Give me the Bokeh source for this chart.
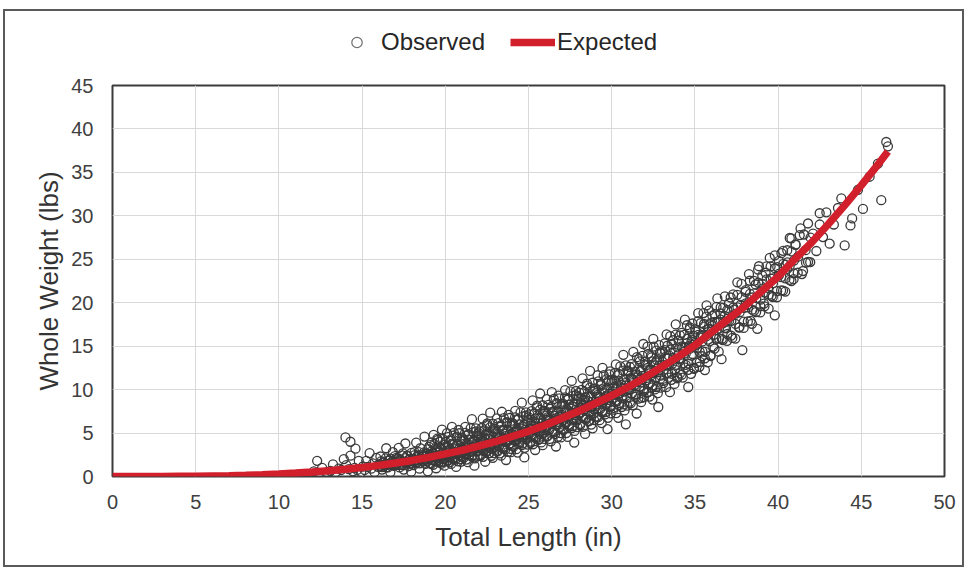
from bokeh.plotting import figure
from bokeh.layouts import column
from bokeh.models import Range1d, Legend, LegendItem, FixedTicker
from bokeh.embed import file_html
from bokeh.resources import INLINE

# Observed fish: total length (in) and whole weight (lbs), one row per inch class
obs_length = [
    12.1, 12.3, 12.4, 12.6, 12.9,
    13.1, 13.25, 13.4, 13.6, 13.75, 13.9,
    14.0, 14.05, 14.2, 14.3, 14.3, 14.45, 14.55, 14.6, 14.7, 14.8, 14.95,
    15.05, 15.15, 15.25, 15.35, 15.45, 15.55, 15.65, 15.75, 15.85, 15.95,
    16.05, 16.1, 16.2, 16.3, 16.35, 16.45, 16.55, 16.6, 16.7, 16.8, 16.85, 16.95,
    17.05, 17.1, 17.2, 17.25, 17.3, 17.4, 17.45, 17.5, 17.6, 17.65, 17.7, 17.8, 17.85, 17.95,
    18.05, 18.1, 18.15, 18.2, 18.25, 18.3, 18.4, 18.45, 18.5, 18.55, 18.65, 18.7, 18.75, 18.8, 18.9, 18.95,
    19.05, 19.1, 19.15, 19.2, 19.25, 19.3, 19.35, 19.4, 19.45, 19.5, 19.55, 19.6, 19.7, 19.75, 19.8, 19.85, 19.9, 19.95,
    20.0, 20.05, 20.1, 20.15, 20.2, 20.25, 20.3, 20.35, 20.4, 20.45, 20.5, 20.55, 20.6, 20.65, 20.7, 20.75, 20.8, 20.85, 20.9, 20.95,
    21.0, 21.05, 21.1, 21.15, 21.2, 21.25, 21.3, 21.35, 21.4, 21.45, 21.5, 21.55, 21.6, 21.65, 21.7, 21.75, 21.8, 21.85, 21.9, 21.95,
    22.0, 22.05, 22.1, 22.15, 22.2, 22.25, 22.3, 22.35, 22.4, 22.45, 22.5, 22.55, 22.6, 22.65, 22.7, 22.75, 22.8, 22.85, 22.9, 22.95,
    23.0, 23.05, 23.1, 23.15, 23.2, 23.25, 23.3, 23.35, 23.4, 23.45, 23.5, 23.55, 23.6, 23.65, 23.7, 23.75, 23.8, 23.85, 23.9, 23.95,
    24.0, 24.05, 24.1, 24.15, 24.2, 24.25, 24.3, 24.35, 24.4, 24.45, 24.5, 24.55, 24.6, 24.65, 24.7, 24.75, 24.8, 24.85, 24.9, 24.95,
    25.0, 25.05, 25.1, 25.15, 25.2, 25.25, 25.3, 25.35, 25.4, 25.45, 25.5, 25.55, 25.6, 25.65, 25.7, 25.75, 25.8, 25.85, 25.9, 25.95,
    26.0, 26.05, 26.1, 26.15, 26.2, 26.25, 26.3, 26.35, 26.4, 26.45, 26.5, 26.55, 26.6, 26.65, 26.7, 26.75, 26.8, 26.85, 26.9, 26.95,
    27.0, 27.05, 27.1, 27.15, 27.2, 27.25, 27.3, 27.35, 27.4, 27.45, 27.5, 27.55, 27.6, 27.65, 27.7, 27.75, 27.8, 27.85, 27.9, 27.95,
    28.0, 28.05, 28.1, 28.15, 28.2, 28.25, 28.3, 28.35, 28.4, 28.45, 28.5, 28.55, 28.6, 28.65, 28.7, 28.75, 28.8, 28.85, 28.9, 28.95,
    29.05, 29.1, 29.15, 29.2, 29.25, 29.3, 29.35, 29.4, 29.45, 29.5, 29.55, 29.6, 29.7, 29.75, 29.8, 29.85, 29.9, 29.95,
    30.05, 30.1, 30.15, 30.2, 30.25, 30.3, 30.35, 30.4, 30.45, 30.5, 30.55, 30.6, 30.7, 30.75, 30.8, 30.85, 30.9, 30.95,
    31.05, 31.1, 31.15, 31.2, 31.25, 31.3, 31.4, 31.45, 31.5, 31.55, 31.65, 31.7, 31.75, 31.8, 31.9, 31.95,
    32.05, 32.1, 32.15, 32.2, 32.25, 32.3, 32.4, 32.45, 32.5, 32.55, 32.65, 32.7, 32.75, 32.8, 32.9, 32.95,
    33.05, 33.1, 33.2, 33.25, 33.3, 33.4, 33.45, 33.5, 33.6, 33.65, 33.7, 33.8, 33.85, 33.95,
    34.05, 34.1, 34.2, 34.25, 34.3, 34.4, 34.45, 34.5, 34.6, 34.65, 34.7, 34.8, 34.85, 34.95,
    35.05, 35.1, 35.2, 35.3, 35.35, 35.45, 35.55, 35.6, 35.7, 35.8, 35.85, 35.95,
    36.05, 36.1, 36.2, 36.3, 36.35, 36.45, 36.55, 36.6, 36.7, 36.8, 36.85, 36.95,
    37.05, 37.15, 37.25, 37.35, 37.45, 37.55, 37.65, 37.75, 37.85, 37.95,
    38.05, 38.15, 38.25, 38.35, 38.45, 38.55, 38.65, 38.75, 38.85, 38.95,
    39.05, 39.15, 39.25, 39.4, 39.5, 39.6, 39.7, 39.8, 39.95,
    40.05, 40.2, 40.3, 40.45, 40.55, 40.7, 40.8, 40.95,
    41.05, 41.2, 41.35, 41.5, 41.65, 41.8, 41.95,
    42.1, 42.3, 42.5, 42.5, 42.7, 42.9,
    43.1, 43.35, 43.6, 43.8, 44.0, 44.35, 44.45, 44.8, 45.1, 45.5, 46.0, 46.2, 46.5, 46.6,
]
obs_weight = [
    0.6, 1.8, 0.4, 1.0, 0.5,
    0.65, 1.4, 0.45, 0.9, 0.75, 2.0,
    4.5, 1.3, 0.85, 2.4, 4.0, 0.6, 1.0, 3.2, 0.75, 1.8, 0.5,
    1.15, 0.75, 1.8, 1.1, 2.7, 0.9, 1.5, 0.5, 2.15, 1.1,
    1.2, 2.3, 0.8, 1.6, 1.4, 3.25, 1.05, 1.85, 0.5, 1.7, 2.8, 1.3,
    2.15, 1.5, 3.3, 1.05, 1.8, 1.35, 2.65, 0.8, 3.8, 1.7, 2.35, 1.2, 1.95, 0.55,
    2.0, 1.3, 2.8, 1.9, 3.9, 1.6, 2.45, 0.9, 3.25, 1.95, 2.3, 1.75, 4.6, 1.45, 2.6, 0.6,
    2.05, 3.6, 1.45, 2.65, 2.35, 4.8, 1.85, 3.0, 0.95, 2.75, 4.2, 2.2, 3.25, 1.65, 5.4, 2.0, 2.45, 1.25,
    3.4, 2.55, 5.0, 1.8, 2.9, 2.25, 4.1, 1.45, 5.7, 2.75, 3.65, 2.1, 3.15, 1.1, 4.5, 2.6, 5.35, 2.4, 3.0, 1.7,
    3.25, 2.25, 4.3, 3.05, 5.7, 2.65, 3.8, 1.65, 4.85, 3.15, 3.6, 2.85, 6.6, 2.45, 4.0, 1.25, 3.45, 5.2, 2.95, 4.5,
    3.3, 5.2, 2.35, 4.05, 3.7, 6.65, 2.95, 4.45, 1.7, 4.2, 5.9, 3.45, 4.75, 2.7, 7.35, 3.2, 3.8, 2.15, 5.55, 3.55,
    4.95, 3.9, 6.7, 2.9, 4.4, 3.55, 5.7, 2.4, 7.45, 4.25, 5.25, 3.3, 4.65, 1.9, 6.15, 4.05, 7.1, 3.75, 4.5, 2.8,
    4.9, 3.55, 6.05, 4.65, 7.55, 4.1, 5.45, 2.75, 6.6, 4.75, 5.3, 4.35, 8.5, 3.8, 5.75, 2.2, 5.1, 7.0, 4.5, 6.25,
    5.0, 7.15, 3.85, 5.85, 5.5, 8.75, 4.55, 6.35, 3.05, 6.05, 7.95, 5.2, 6.65, 4.3, 9.55, 4.85, 5.65, 3.6, 7.55, 5.35,
    7.0, 5.85, 8.9, 4.65, 6.4, 5.4, 7.8, 4.05, 9.7, 6.25, 7.3, 5.1, 6.7, 3.45, 8.3, 6.0, 9.3, 5.65, 6.55, 4.5,
    7.1, 5.5, 8.35, 6.8, 9.95, 6.15, 7.7, 4.55, 8.95, 6.95, 7.5, 6.45, 11.0, 5.8, 8.0, 3.9, 7.3, 9.35, 6.6, 8.55,
    7.25, 9.65, 5.9, 8.3, 7.9, 11.3, 6.75, 8.8, 4.9, 8.45, 10.45, 7.55, 9.15, 6.4, 12.15, 7.1, 8.05, 5.55, 10.05, 7.7,
    9.6, 8.3, 11.65, 6.85, 9.0, 7.75, 10.5, 6.15, 12.5, 8.8, 9.95, 7.4, 9.3, 5.45, 11.0, 8.5, 12.1, 8.05,
    9.8, 7.9, 11.1, 9.4, 12.9, 8.65, 10.45, 6.75, 11.8, 9.6, 10.25, 9.05, 14.0, 8.3, 10.75, 6.0, 10.0, 12.2,
    10.05, 12.6, 8.45, 11.2, 10.75, 14.35, 9.45, 11.75, 7.25, 11.4, 13.5, 10.35, 12.1, 9.05, 15.25, 9.85,
    12.8, 11.35, 14.95, 9.7, 12.15, 10.75, 13.7, 8.85, 15.85, 11.9, 13.15, 10.3, 12.45, 8.0, 14.25, 11.6,
    13.2, 11.0, 14.55, 12.75, 16.35, 11.9, 13.9, 9.7, 15.25, 13.0, 13.65, 12.3, 17.5, 11.45,
    13.55, 16.25, 11.7, 14.8, 14.35, 18.05, 12.85, 15.35, 10.3, 15.0, 17.15, 13.9, 15.7, 12.4,
    16.65, 15.15, 18.8, 13.2, 16.0, 14.4, 17.55, 12.25, 19.7, 15.75, 17.0, 13.95,
    17.35, 14.95, 18.7, 16.85, 20.5, 15.9, 18.05, 13.5, 19.4, 17.1, 17.8, 16.4,
    17.9, 20.6, 15.95, 19.2, 18.75, 22.35, 17.15, 19.75, 14.55, 19.4,
    21.25, 19.75, 23.3, 17.9, 20.6, 19.05, 22.1, 17.0, 24.2, 20.35,
    22.15, 19.9, 23.45, 21.7, 25.15, 20.8, 22.8, 18.55, 24.1,
    23.15, 25.7, 21.4, 24.35, 23.9, 27.45, 22.5, 24.85,
    26.65, 25.3, 28.55, 23.65, 26.05, 24.7, 27.5,
    27.95, 25.95, 29.0, 30.3, 27.55, 30.4,
    26.8, 29.0, 30.9, 32.0, 26.6, 28.9, 29.7, 33.0, 30.8, 34.5, 36.0, 31.8, 38.5, 38.0,
]

# Dense core of the observations, close to the expected curve
core_length = [
    16.03, 16.09, 16.16, 16.22, 16.28, 16.34, 16.41, 16.47, 16.53, 16.59, 16.66, 16.72, 16.78, 16.84, 16.91, 16.97,
    17.03, 17.09, 17.16, 17.22, 17.28, 17.34, 17.41, 17.47, 17.53, 17.59, 17.66, 17.72, 17.78, 17.84, 17.91, 17.97,
    18.03, 18.09, 18.16, 18.22, 18.28, 18.34, 18.41, 18.47, 18.53, 18.59, 18.66, 18.72, 18.78, 18.84, 18.91, 18.97,
    19.03, 19.09, 19.16, 19.22, 19.28, 19.34, 19.41, 19.47, 19.53, 19.59, 19.66, 19.72, 19.78, 19.84, 19.91, 19.97,
    20.03, 20.09, 20.16, 20.22, 20.28, 20.34, 20.41, 20.47, 20.53, 20.59, 20.66, 20.72, 20.78, 20.84, 20.91, 20.97,
    21.03, 21.09, 21.16, 21.22, 21.28, 21.34, 21.41, 21.47, 21.53, 21.59, 21.66, 21.72, 21.78, 21.84, 21.91, 21.97,
    22.03, 22.09, 22.16, 22.22, 22.28, 22.34, 22.41, 22.47, 22.53, 22.59, 22.66, 22.72, 22.78, 22.84, 22.91, 22.97,
    23.03, 23.09, 23.16, 23.22, 23.28, 23.34, 23.41, 23.47, 23.53, 23.59, 23.66, 23.72, 23.78, 23.84, 23.91, 23.97,
    24.03, 24.09, 24.16, 24.22, 24.28, 24.34, 24.41, 24.47, 24.53, 24.59, 24.66, 24.72, 24.78, 24.84, 24.91, 24.97,
    25.03, 25.09, 25.16, 25.22, 25.28, 25.34, 25.41, 25.47, 25.53, 25.59, 25.66, 25.72, 25.78, 25.84, 25.91, 25.97,
    26.03, 26.09, 26.16, 26.22, 26.28, 26.34, 26.41, 26.47, 26.53, 26.59, 26.66, 26.72, 26.78, 26.84, 26.91, 26.97,
    27.03, 27.09, 27.16, 27.22, 27.28, 27.34, 27.41, 27.47, 27.53, 27.59, 27.66, 27.72, 27.78, 27.84, 27.91, 27.97,
    28.03, 28.09, 28.16, 28.22, 28.28, 28.34, 28.41, 28.47, 28.53, 28.59, 28.66, 28.72, 28.78, 28.84, 28.91, 28.97,
    29.03, 29.09, 29.16, 29.22, 29.28, 29.34, 29.41, 29.47, 29.53, 29.59, 29.66, 29.72, 29.78, 29.84, 29.91, 29.97,
    30.03, 30.09, 30.16, 30.22, 30.28, 30.34, 30.41, 30.47, 30.53, 30.59, 30.66, 30.72, 30.78, 30.84, 30.91, 30.97,
    31.03, 31.09, 31.16, 31.22, 31.28, 31.34, 31.41, 31.47, 31.53, 31.59, 31.66, 31.72, 31.78, 31.84, 31.91, 31.97,
    32.03, 32.09, 32.16, 32.22, 32.28, 32.34, 32.41, 32.47, 32.53, 32.59, 32.66, 32.72, 32.78, 32.84, 32.91, 32.97,
    33.04, 33.12, 33.2, 33.29, 33.37, 33.45, 33.54, 33.62, 33.7, 33.79, 33.87, 33.95,
    34.04, 34.12, 34.2, 34.29, 34.37, 34.45, 34.54, 34.62, 34.7, 34.79, 34.87, 34.95,
    35.04, 35.12, 35.2, 35.29, 35.37, 35.45, 35.54, 35.62, 35.7, 35.79, 35.87, 35.95,
    36.04, 36.12, 36.2, 36.29, 36.37, 36.45, 36.54, 36.62, 36.7, 36.79, 36.87, 36.95,
    37.06, 37.19, 37.31, 37.44, 37.56, 37.69, 37.81, 37.94,
    38.06, 38.19, 38.31, 38.44, 38.56, 38.69, 38.81, 38.94,
    39.06, 39.19, 39.31, 39.44, 39.56, 39.69, 39.81, 39.94,
    40.06, 40.19, 40.31, 40.44, 40.56, 40.69, 40.81, 40.94,
]
core_weight = [
    1.41, 1.2, 1.78, 1.09, 1.64, 1.32, 2.08, 1.06, 1.42, 1.79, 1.28, 2.05, 1.41, 1.69, 1.23, 2.35,
    1.69, 1.46, 2.1, 1.32, 1.93, 1.59, 2.42, 1.27, 1.71, 2.11, 1.53, 2.4, 1.68, 2.0, 1.46, 2.72,
    2.0, 1.74, 2.45, 1.58, 2.27, 1.9, 2.8, 1.52, 2.04, 2.47, 1.83, 2.78, 2.01, 2.36, 1.75, 3.14,
    2.36, 2.08, 2.86, 1.89, 2.67, 2.26, 3.26, 1.83, 2.41, 2.89, 2.17, 3.24, 2.38, 2.78, 2.08, 3.64,
    2.78, 2.46, 3.34, 2.24, 3.12, 2.65, 3.78, 2.16, 2.81, 3.35, 2.54, 3.74, 2.77, 3.21, 2.42, 4.18,
    3.2, 2.85, 3.78, 2.61, 3.56, 3.07, 4.26, 2.54, 3.27, 3.83, 2.97, 4.24, 3.23, 3.7, 2.86, 4.72,
    3.7, 3.32, 4.3, 3.03, 4.07, 3.55, 4.79, 2.93, 3.77, 4.34, 3.42, 4.76, 3.71, 4.21, 3.27, 5.25,
    4.2, 3.8, 4.84, 3.5, 4.61, 4.08, 5.36, 3.41, 4.32, 4.91, 3.95, 5.36, 4.27, 4.8, 3.8, 5.88,
    4.81, 4.38, 5.46, 4.06, 5.23, 4.67, 5.99, 3.94, 4.92, 5.52, 4.51, 5.98, 4.85, 5.4, 4.34, 6.51,
    5.42, 4.98, 6.11, 4.65, 5.88, 5.3, 6.69, 4.55, 5.57, 6.21, 5.16, 6.7, 5.53, 6.11, 5.0, 7.28,
    6.12, 5.67, 6.83, 5.33, 6.6, 6.02, 7.43, 5.23, 6.32, 6.97, 5.89, 7.48, 6.28, 6.89, 5.73, 8.08,
    6.93, 6.45, 7.65, 6.08, 7.41, 6.81, 8.26, 5.96, 7.12, 7.79, 6.65, 8.31, 7.06, 7.7, 6.47, 8.92,
    7.74, 7.24, 8.48, 6.85, 8.25, 7.64, 9.13, 6.73, 7.98, 8.66, 7.48, 9.2, 7.93, 8.6, 7.3, 9.84,
    8.65, 8.12, 9.4, 7.7, 9.17, 8.53, 10.06, 7.56, 8.88, 9.58, 8.34, 10.13, 8.81, 9.5, 8.14, 10.77,
    9.55, 9.01, 10.34, 8.57, 10.11, 9.45, 11.03, 8.44, 9.83, 10.55, 9.28, 11.12, 9.78, 10.49, 9.07, 11.81,
    10.55, 10.0, 11.36, 9.54, 11.14, 10.47, 12.07, 9.42, 10.88, 11.61, 10.31, 12.19, 10.84, 11.57, 10.1, 12.91,
    11.67, 11.09, 12.49, 10.61, 12.28, 11.6, 13.24, 10.49, 12.04, 12.79, 11.43, 13.39, 12.0, 12.77, 11.23, 14.14,
    12.88, 12.3, 13.74, 11.85, 13.58, 12.92, 14.6, 11.8, 13.44, 14.23, 12.85, 14.87,
    14.08, 13.5, 14.96, 13.03, 14.82, 14.16, 15.85, 13.0, 14.71, 15.51, 14.1, 16.17,
    15.39, 14.8, 16.3, 14.34, 16.2, 15.54, 17.26, 14.35, 16.15, 16.97, 15.55, 17.66,
    16.89, 16.3, 17.8, 15.84, 17.7, 17.04, 18.76, 15.85, 17.65, 18.47, 17.05, 19.16,
    18.41, 17.91, 19.45, 17.56, 19.47, 18.9, 20.64, 17.83,
    19.92, 19.46, 21.01, 19.2, 21.08, 20.54, 22.3, 19.59,
    21.62, 21.17, 22.69, 20.93, 22.77, 22.25, 23.97, 21.33,
    23.34, 22.95, 24.48, 22.8, 24.64, 24.17, 25.91, 23.38,
]

# Middle of the band, between the core and the outer observations
band_length = [
    19.02, 19.1, 19.19, 19.27, 19.35, 19.44, 19.52, 19.6, 19.69, 19.77, 19.85, 19.94,
    20.02, 20.1, 20.19, 20.27, 20.35, 20.44, 20.52, 20.6, 20.69, 20.77, 20.85, 20.94,
    21.02, 21.1, 21.19, 21.27, 21.35, 21.44, 21.52, 21.6, 21.69, 21.77, 21.85, 21.94,
    22.02, 22.1, 22.19, 22.27, 22.35, 22.44, 22.52, 22.6, 22.69, 22.77, 22.85, 22.94,
    23.02, 23.1, 23.19, 23.27, 23.35, 23.44, 23.52, 23.6, 23.69, 23.77, 23.85, 23.94,
    24.02, 24.1, 24.19, 24.27, 24.35, 24.44, 24.52, 24.6, 24.69, 24.77, 24.85, 24.94,
    25.02, 25.1, 25.19, 25.27, 25.35, 25.44, 25.52, 25.6, 25.69, 25.77, 25.85, 25.94,
    26.02, 26.1, 26.19, 26.27, 26.35, 26.44, 26.52, 26.6, 26.69, 26.77, 26.85, 26.94,
    27.02, 27.1, 27.19, 27.27, 27.35, 27.44, 27.52, 27.6, 27.69, 27.77, 27.85, 27.94,
    28.02, 28.1, 28.19, 28.27, 28.35, 28.44, 28.52, 28.6, 28.69, 28.77, 28.85, 28.94,
    29.02, 29.1, 29.19, 29.27, 29.35, 29.44, 29.52, 29.6, 29.69, 29.77, 29.85, 29.94,
    30.02, 30.1, 30.19, 30.27, 30.35, 30.44, 30.52, 30.6, 30.69, 30.77, 30.85, 30.94,
    31.02, 31.1, 31.19, 31.27, 31.35, 31.44, 31.52, 31.6, 31.69, 31.77, 31.85, 31.94,
    32.02, 32.1, 32.19, 32.27, 32.35, 32.44, 32.52, 32.6, 32.69, 32.77, 32.85, 32.94,
    33.02, 33.1, 33.19, 33.27, 33.35, 33.44, 33.52, 33.6, 33.69, 33.77, 33.85, 33.94,
    34.02, 34.1, 34.19, 34.27, 34.35, 34.44, 34.52, 34.6, 34.69, 34.77, 34.85, 34.94,
    35.02, 35.1, 35.19, 35.27, 35.35, 35.44, 35.52, 35.6, 35.69, 35.77, 35.85, 35.94,
    36.05, 36.18, 36.3, 36.43, 36.55, 36.68, 36.8, 36.93,
    37.05, 37.18, 37.3, 37.43, 37.55, 37.68, 37.8, 37.93,
    38.05, 38.18, 38.3, 38.43, 38.55, 38.68, 38.8, 38.93,
    39.05, 39.18, 39.3, 39.43, 39.55, 39.68, 39.8, 39.93,
    40.05, 40.18, 40.3, 40.43, 40.55, 40.68, 40.8, 40.93,
    41.05, 41.18, 41.3, 41.43, 41.55, 41.68, 41.8, 41.93,
]
band_weight = [
    3.41, 1.52, 3.93, 1.35, 3.69, 1.74, 4.36, 1.64, 3.98, 1.47, 4.34, 1.7,
    3.97, 1.83, 4.55, 1.63, 4.27, 2.06, 5.02, 1.94, 4.58, 1.74, 4.98, 1.99,
    4.41, 2.15, 5.03, 1.94, 4.76, 2.42, 5.54, 2.3, 5.1, 2.09, 5.53, 2.37,
    4.95, 2.51, 5.58, 2.26, 5.3, 2.8, 6.1, 2.65, 5.65, 2.39, 6.09, 2.7,
    5.49, 2.93, 6.15, 2.66, 5.88, 3.26, 6.72, 3.11, 6.26, 2.83, 6.73, 3.18,
    6.13, 3.44, 6.8, 3.14, 6.52, 3.78, 7.38, 3.61, 6.91, 3.3, 7.39, 3.67,
    6.81, 4.01, 7.53, 3.71, 7.25, 4.39, 8.16, 4.22, 7.68, 3.92, 8.2, 4.32,
    7.52, 4.63, 8.25, 4.32, 7.98, 5.05, 8.92, 4.88, 8.45, 4.57, 8.98, 5.0,
    8.36, 5.34, 9.11, 5.0, 8.83, 5.77, 9.79, 5.58, 9.3, 5.24, 9.84, 5.69,
    9.2, 6.06, 9.98, 5.7, 9.71, 6.54, 10.7, 6.34, 10.22, 5.98, 10.79, 6.48,
    10.14, 6.87, 10.94, 6.48, 10.66, 7.36, 11.67, 7.14, 11.17, 6.75, 11.75, 7.27,
    11.08, 7.69, 11.91, 7.29, 11.63, 8.22, 12.68, 8.0, 12.19, 7.6, 12.79, 8.15,
    12.08, 8.61, 12.93, 8.2, 12.67, 9.18, 13.73, 8.96, 13.26, 8.55, 13.88, 9.13,
    13.22, 9.63, 14.11, 9.2, 13.85, 10.25, 14.95, 10.02, 14.48, 9.59, 15.12, 10.22,
    14.42, 10.74, 15.31, 10.28, 15.05, 11.37, 16.15, 11.12, 15.68, 10.66, 16.32, 11.31,
    15.63, 11.86, 16.53, 11.39, 16.29, 12.53, 17.41, 12.28, 16.95, 11.81, 17.61, 12.49,
    16.93, 13.09, 17.87, 12.63, 17.66, 13.84, 18.81, 13.6, 18.39, 13.14, 19.08, 13.87,
    18.48, 14.71, 19.53, 14.37, 19.46, 15.7, 20.73, 15.6,
    19.94, 16.21, 20.97, 15.87, 20.91, 17.2, 22.16, 17.1,
    21.45, 17.84, 22.53, 17.57, 22.52, 18.92, 23.82, 18.88,
    23.11, 19.58, 24.18, 19.33, 24.18, 20.66, 25.46, 20.63,
    24.82, 21.42, 25.97, 21.28, 26.04, 22.64, 27.4, 22.71,
    26.7, 23.45, 27.77, 23.3, 27.85, 24.61, 29.12, 24.67,
]

# Expected weight-length relationship
exp_length = [0, 1, 2, 3, 4, 5, 6, 7, 8, 9, 10, 11, 12, 13, 14, 15, 16, 17, 18, 19,
              20, 21, 22, 23, 24, 25, 26, 27, 28, 29, 30, 31, 32, 33, 34, 35, 36, 37,
              38, 39, 40, 41, 42, 43, 44, 45, 46, 46.6]
exp_weight = [0, 0, 0, 0.01, 0.02, 0.03, 0.06, 0.09, 0.14, 0.21, 0.29, 0.39, 0.51, 0.66,
              0.84, 1.04, 1.28, 1.55, 1.85, 2.2, 2.6, 3.0, 3.5, 4.0, 4.6, 5.2, 5.9, 6.7,
              7.5, 8.4, 9.3, 10.3, 11.4, 12.6, 13.8, 15.1, 16.6, 18.1, 19.6, 21.3, 23.0,
              25.0, 26.9, 29.0, 31.2, 33.5, 35.9, 37.4]

x_ticks = [0, 5, 10, 15, 20, 25, 30, 35, 40, 45, 50]
y_ticks = [0, 5, 10, 15, 20, 25, 30, 35, 40, 45]

FONT = "Liberation Sans"
BORDER = "2px solid #5a5a5a"
OBS_STYLE = dict(marker="circle", size=9, fill_color=None, line_color="#3a3a3a", line_width=1.3)
EXP_STYLE = dict(line_color="#d11f2c", line_width=7.5)

all_length = obs_length + core_length + band_length
all_weight = obs_weight + core_weight + band_weight

# --- legend strip across the top of the chart ---
head = figure(width=961, height=60, output_backend="svg", toolbar_location=None,
              x_axis_type=None, y_axis_type=None,
              x_range=Range1d(0, 50), y_range=Range1d(100, 101),
              min_border=0, margin=(9, 0, 0, 3))
head.outline_line_color = None
head.grid.visible = False
head.styles = {"border-top": BORDER, "border-left": BORDER, "border-right": BORDER}
leg_obs = head.scatter(all_length, all_weight, marker="circle", size=7, fill_color=None,
                       line_color="#6e6e6e", line_width=1.2)
leg_exp = head.line(exp_length, exp_weight, **EXP_STYLE)
legend = Legend(
    items=[LegendItem(label="Observed", renderers=[leg_obs]),
           LegendItem(label="Expected", renderers=[leg_exp])],
    orientation="horizontal", location=(222, 15),
    glyph_width=45, glyph_height=26, label_standoff=2, spacing=25,
    padding=0, margin=0, border_line_color=None, background_fill_alpha=0,
    label_text_font=FONT, label_text_font_size="24px", label_text_color="#262626",
)
head.add_layout(legend, "center")

# --- main scatter plot ---
p = figure(width=961, height=498, output_backend="svg", toolbar_location=None,
           x_range=Range1d(0, 50), y_range=Range1d(0, 45),
           min_border_left=107, min_border_right=22,
           min_border_top=16, min_border_bottom=91,
           margin=(0, 0, 0, 3))
p.styles = {"border-bottom": BORDER, "border-left": BORDER, "border-right": BORDER}
p.background_fill_color = "white"
p.border_fill_color = "white"
p.outline_line_color = "#3b3b3b"
p.outline_line_width = 2

p.xaxis.ticker = FixedTicker(ticks=x_ticks)
p.yaxis.ticker = FixedTicker(ticks=y_ticks)
p.grid.grid_line_color = "#d9d9d9"
p.grid.grid_line_width = 1

for ax in (p.xaxis, p.yaxis):
    ax.axis_line_color = None
    ax.major_tick_line_color = None
    ax.minor_tick_line_color = None
    ax.major_label_text_font = FONT
    ax.major_label_text_font_size = "20px"
    ax.major_label_text_color = "#404040"
    ax.axis_label_text_font = FONT
    ax.axis_label_text_font_size = "26px"
    ax.axis_label_text_font_style = "normal"
    ax.axis_label_text_color = "#333333"

p.xaxis.axis_label = "Total Length (in)"
p.yaxis.axis_label = "Whole Weight (lbs)"
p.xaxis.major_label_standoff = 12
p.yaxis.major_label_standoff = 13
p.xaxis.axis_label_standoff = 10
p.yaxis.axis_label_standoff = 4

p.scatter(all_length, all_weight, **OBS_STYLE)
p.line(exp_length, exp_weight, **EXP_STYLE)

layout = column(head, p, spacing=0)
open("out.html", "w").write(file_html(layout, INLINE))
